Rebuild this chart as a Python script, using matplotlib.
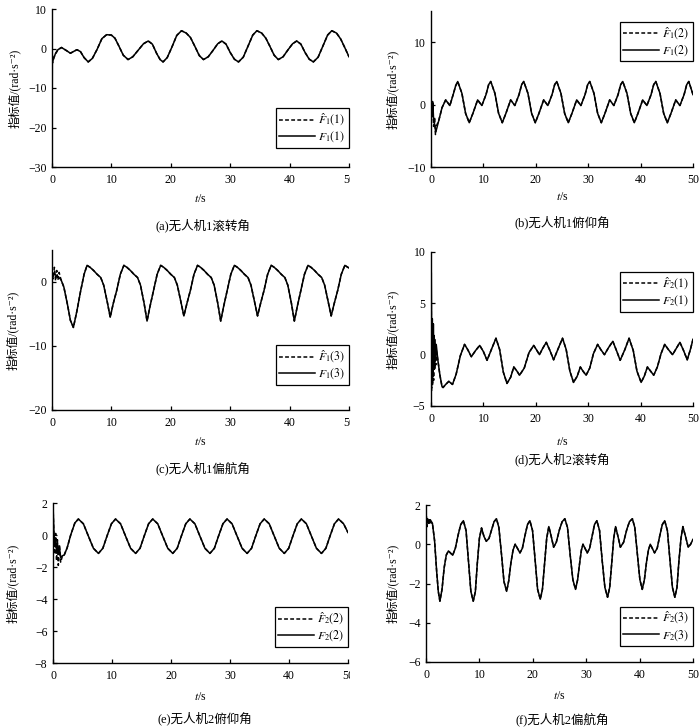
import matplotlib
matplotlib.use('Agg')
import matplotlib.pyplot as plt
from matplotlib.transforms import Bbox, TransformedBbox

plt.rcParams['font.family'] = ['Liberation Serif', 'Noto Sans CJK SC', 'DejaVu Serif']
plt.rcParams['mathtext.fontset'] = 'stix'
plt.rcParams['axes.unicode_minus'] = True

# ---------------- (a) UAV1 roll ----------------
ta_head = [0.0, 0.05, 0.1, 0.3, 0.6, 1.0]
Fa_head = [-29.0, -4.0, -3.3, -2.5, -1.2, -0.3]
ta_head_hat = [0.0, 0.1, 0.3, 0.6, 1.0]
Fa_head_hat = [-3.0, -3.6, -2.2, -1.4, -0.3]
ta = [1.6, 2.3, 3.1, 3.7, 4.2, 4.8, 5.4, 6.1,
      6.8, 7.6, 8.4, 9.2, 10.0, 10.6, 11.3, 12.0, 12.8,
      13.6, 14.5, 15.4, 16.2, 16.9, 17.6, 18.2, 18.7,
      19.4, 20.2, 21.0, 21.8, 22.6, 23.3, 24.0, 24.8, 25.5,
      26.3, 27.1, 27.9, 28.6, 29.3, 30.0, 30.7, 31.4,
      32.2, 33.0, 33.8, 34.5, 35.3, 36.0, 36.7, 37.4, 38.1,
      38.9, 39.7, 40.5, 41.2, 41.9, 42.6, 43.3, 44.0,
      44.8, 45.6, 46.4, 47.1, 47.9, 48.6, 49.3, 50.0]
Fa = [0.25, -0.4, -1.2, -0.7, -0.3, -0.8, -2.3, -3.4,
      -2.5, -0.2, 2.5, 3.5, 3.4, 2.6, 0.5, -1.7, -2.8,
      -2.1, -0.45, 1.2, 1.9, 1.1, -1.2, -2.8, -3.4,
      -2.3, 0.4, 3.3, 4.5, 3.9, 2.8, 0.7, -1.8, -2.8,
      -2.1, -0.5, 1.2, 1.9, 1.1, -1.0, -2.7, -3.4,
      -2.2, 0.6, 3.4, 4.5, 3.9, 2.6, 0.5, -1.7, -2.8,
      -2.1, -0.4, 1.2, 1.9, 1.1, -1.0, -2.7, -3.4,
      -2.2, 0.6, 3.4, 4.5, 3.9, 2.4, 0.2, -2.1]

# ---------------- (b) UAV1 pitch ----------------
tb_head = [0.0, 0.2, 0.35, 0.5, 0.7, 0.9, 1.1, 1.5, 2.1]
Fb_head = [0.4, -1.5, 0.3, -2.5, -3.2, -4.4, -3.8, -2.5, -0.5]
tb_head_hat = [0.0, 0.15, 0.3, 0.5, 0.7, 0.85, 1.0, 1.5, 2.1]
Fb_head_hat = [0.5, -2.0, 0.5, -3.5, -2.0, -4.8, -3.5, -2.5, -0.5]
tb = [2.8, 3.6, 4.3, 4.7,
      5.1, 5.9, 6.6, 7.3, 8.0, 8.9, 9.7, 10.5, 11.0,
      11.4, 12.2, 12.9, 13.6, 14.3, 15.2, 16.0, 16.8, 17.3,
      17.7, 18.5, 19.2, 19.9, 20.6, 21.5, 22.3, 23.1, 23.6,
      24.0, 24.8, 25.5, 26.2, 26.9, 27.8, 28.6, 29.4, 29.9,
      30.3, 31.1, 31.8, 32.5, 33.2, 34.1, 34.9, 35.7, 36.2,
      36.6, 37.4, 38.1, 38.8, 39.5, 40.4, 41.2, 42.0, 42.5,
      42.9, 43.7, 44.4, 45.1, 45.8, 46.7, 47.5, 48.3, 48.8,
      49.2, 50.0]
Fb = [0.75, -0.15, 1.8, 3.0,
      3.7, 1.8, -1.4, -2.9, -1.4, 0.75, -0.15, 1.6, 3.2,
      3.7, 1.8, -1.4, -2.9, -1.4, 0.75, -0.15, 1.6, 3.2,
      3.7, 1.8, -1.4, -2.9, -1.4, 0.75, -0.15, 1.6, 3.2,
      3.7, 1.8, -1.4, -2.9, -1.4, 0.75, -0.15, 1.6, 3.2,
      3.7, 1.8, -1.4, -2.9, -1.4, 0.75, -0.15, 1.6, 3.2,
      3.7, 1.8, -1.4, -2.9, -1.4, 0.75, -0.15, 1.6, 3.2,
      3.7, 1.8, -1.4, -2.9, -1.4, 0.75, -0.15, 1.6, 3.2,
      3.7, 1.6]

# ---------------- (c) UAV1 yaw ----------------
tc_head = [0.0, 0.5, 1.0, 1.5]
Fc_head = [1.0, 1.2, 0.8, 0.4]
tc_head_hat = [0.0, 0.2, 0.4, 0.6, 0.8, 1.0, 1.2, 1.5]
Fc_head_hat = [2.0, 0.5, 2.3, 0.2, 1.8, 0.3, 1.5, 0.4]
tc = [2.0, 2.6, 3.1, 3.6, 4.2, 4.8, 5.4,
      5.9, 6.4, 7.0, 7.6, 8.2, 8.7, 9.3, 9.8, 10.3, 10.9, 11.5,
      12.1, 12.6, 13.2, 13.8, 14.4, 14.9, 15.5, 16.0, 16.5, 17.1, 17.7,
      18.3, 18.8, 19.4, 20.0, 20.6, 21.1, 21.7, 22.2, 22.7, 23.3, 23.9,
      24.5, 25.0, 25.6, 26.2, 26.8, 27.3, 27.9, 28.4, 28.9, 29.5, 30.1,
      30.7, 31.2, 31.8, 32.4, 33.0, 33.5, 34.1, 34.6, 35.1, 35.7, 36.3,
      36.9, 37.4, 38.0, 38.6, 39.2, 39.7, 40.3, 40.8, 41.3, 41.9, 42.5,
      43.1, 43.6, 44.2, 44.8, 45.4, 45.9, 46.5, 47.0, 47.5, 48.1, 48.7,
      49.3, 49.8, 50.0]
Fc = [-0.8, -3.5, -6.0, -7.1, -4.5, -1.5, 1.2,
      2.6, 2.3, 1.8, 1.2, 0.7, -0.5, -3.1, -5.5, -3.4, -1.3, 1.2,
      2.6, 2.3, 1.8, 1.2, 0.7, -0.5, -3.3, -6.1, -3.8, -1.3, 1.2,
      2.6, 2.3, 1.8, 1.2, 0.7, -0.5, -3.1, -5.3, -3.4, -1.3, 1.2,
      2.6, 2.3, 1.8, 1.2, 0.7, -0.5, -3.3, -6.1, -3.8, -1.3, 1.2,
      2.6, 2.3, 1.8, 1.2, 0.7, -0.5, -3.1, -5.3, -3.4, -1.3, 1.2,
      2.6, 2.3, 1.8, 1.2, 0.7, -0.5, -3.3, -6.1, -3.8, -1.3, 1.2,
      2.6, 2.3, 1.8, 1.2, 0.7, -0.5, -3.1, -5.3, -3.4, -1.3, 1.2,
      2.6, 2.3, 2.2]

# ---------------- (d) UAV2 roll ----------------
td_head = [0.0, 0.05, 0.15, 0.25, 0.35, 0.45, 0.55, 0.7, 0.85, 1.0, 1.3]
Fd_head = [-2.5, 8.0, -1.0, 3.5, -2.0, 3.0, -1.0, 1.5, -0.5, 1.0, -0.5]
td_head_hat = [0.0, 0.05, 0.12, 0.2, 0.3, 0.4, 0.5, 0.6, 0.7, 0.8, 0.9, 1.0, 1.3]
Fd_head_hat = [0.0, 4.8, -3.5, 3.2, -3.0, 2.5, -2.5, 2.0, -1.5, 1.0, -1.0, 0.5, -0.5]
td = [1.7, 2.1, 2.3, 2.8, 3.4, 4.1, 4.8, 5.6, 6.4, 7.0,
      7.7, 8.5, 9.3, 10.0, 10.7, 11.6, 12.4, 13.1, 13.8, 14.5,
      15.2, 15.8, 16.4, 16.9, 17.8, 18.7, 19.6, 20.1, 20.7, 21.3,
      22.0, 22.7, 23.4, 24.2, 25.1, 25.8, 26.5, 27.2, 27.9, 28.5,
      29.0, 29.6, 30.3, 31.0, 31.8, 32.4, 33.1, 33.9, 34.7, 35.4,
      36.1, 37.0, 37.8, 38.6, 39.3, 40.1, 40.7, 41.3, 41.9, 42.5,
      43.2, 43.9, 44.6, 45.3, 46.1, 46.8, 47.5, 48.2, 48.9, 49.5,
      50.0]
Fd = [-2.0, -3.1, -3.2, -2.9, -2.6, -2.9, -1.9, -0.1, 1.0, 0.5,
      -0.2, 0.4, 0.9, 0.3, -0.55, 0.6, 1.6, 0.5, -1.7, -2.8,
      -2.2, -1.2, -1.6, -2.0, -1.3, 0.2, 0.9, 0.5, 0.0, 0.6,
      1.2, 0.4, -0.5, 0.5, 1.6, 0.5, -1.6, -2.7, -2.1, -1.2,
      -1.6, -2.0, -1.3, 0.1, 1.0, 0.5, 0.0, 0.7, 1.3, 0.4,
      -0.55, 0.5, 1.6, 0.4, -1.6, -2.7, -2.1, -1.2, -1.6, -2.0,
      -1.2, 0.1, 1.0, 0.5, 0.0, 0.6, 1.2, 0.4, -0.5, 0.5,
      1.5]

# ---------------- (e) UAV2 pitch ----------------
te_head = [0.0, 0.02, 0.15, 0.3, 0.45, 0.6, 0.75, 0.9, 1.1, 1.3, 1.6]
Fe_head = [-6.5, 1.7, 0.2, -0.6, -0.2, -1.0, -0.5, -1.2, -0.8, -1.4, -1.3]
te_head_hat = [0.0, 0.15, 0.3, 0.45, 0.6, 0.75, 0.9, 1.1, 1.3, 1.6]
Fe_head_hat = [1.8, 0.0, -1.2, 0.1, -1.6, -0.3, -1.9, -0.6, -1.7, -1.3]
te = [1.9, 2.4, 3.0, 3.7,
      4.3, 5.15, 6.0, 6.85, 7.7, 8.45, 9.15, 9.9,
      10.6, 11.45, 12.3, 13.15, 14.0, 14.75, 15.45, 16.2,
      16.9, 17.75, 18.6, 19.45, 20.3, 21.05, 21.75, 22.5,
      23.2, 24.05, 24.9, 25.75, 26.6, 27.35, 28.05, 28.8,
      29.5, 30.35, 31.2, 32.05, 32.9, 33.65, 34.35, 35.1,
      35.8, 36.65, 37.5, 38.35, 39.2, 39.95, 40.65, 41.4,
      42.1, 42.95, 43.8, 44.65, 45.5, 46.25, 46.95, 47.7,
      48.4, 49.25, 50.0]
Fe = [-1.25, -0.8, 0.0, 0.75,
      1.0, 0.7, -0.07, -0.83, -1.15, -0.83, -0.07, 0.7,
      1.0, 0.7, -0.07, -0.83, -1.15, -0.83, -0.07, 0.7,
      1.0, 0.7, -0.07, -0.83, -1.15, -0.83, -0.07, 0.7,
      1.0, 0.7, -0.07, -0.83, -1.15, -0.83, -0.07, 0.7,
      1.0, 0.7, -0.07, -0.83, -1.15, -0.83, -0.07, 0.7,
      1.0, 0.7, -0.07, -0.83, -1.15, -0.83, -0.07, 0.7,
      1.0, 0.7, -0.07, -0.83, -1.15, -0.83, -0.07, 0.7,
      1.0, 0.7, 0.15]

# ---------------- (f) UAV2 yaw ----------------
tf_head = [0.0, 0.2, 0.5, 0.8]
Ff_head = [0.7, 1.2, 1.1, 1.25]
tf_head_hat = [0.0, 0.1, 0.2, 0.3, 0.4, 0.5, 0.6, 0.7, 0.85]
Ff_head_hat = [0.9, 1.4, 0.9, 1.35, 1.0, 1.3, 1.0, 1.3, 1.1]
tf = [1.2, 1.6, 2.0, 2.3, 2.6, 3.0, 3.4, 3.8, 4.2, 4.6, 5.0, 5.5, 6.0, 6.5,
      7.0, 7.5, 7.95, 8.4, 8.85, 9.25, 9.6, 10.0, 10.4, 10.85, 11.3, 11.8,
      12.3, 12.75, 13.2, 13.65, 14.15, 14.6, 15.1, 15.5, 15.9, 16.3, 16.7,
      17.15, 17.6, 18.05, 18.5, 19.0,
      19.45, 19.95, 20.45, 20.9, 21.4, 21.8, 22.2, 22.6, 23.0, 23.45, 23.9,
      24.4, 25.0, 25.5, 26.0, 26.5, 27.0, 27.5, 28.0, 28.4, 28.8, 29.1,
      29.4, 29.8, 30.2, 30.65, 31.1, 31.55,
      32.0, 32.5, 33.0, 33.5, 34.0, 34.4, 34.8, 35.15, 35.5, 35.95, 36.4,
      37.0, 37.6, 38.1, 38.65, 39.1, 39.6, 40.05, 40.5, 40.9, 41.3, 41.65,
      42.0, 42.4, 42.8, 43.3, 43.75, 44.25,
      44.7, 45.2, 45.7, 46.15, 46.6, 47.0, 47.35, 47.75, 48.1, 48.6, 49.1,
      49.55, 50.0]
Ff = [1.07, 0.2, -1.4, -2.4, -2.9, -2.3, -1.2, -0.55, -0.34, -0.45, -0.56, -0.2, 0.45, 1.0,
      1.2, 0.7, -0.85, -2.4, -2.9, -2.4, -1.0, 0.3, 0.83, 0.4, 0.15, 0.3,
      0.75, 1.15, 1.3, 0.85, -0.55, -1.9, -2.4, -1.85, -0.95, -0.3, 0.0,
      -0.22, -0.44, -0.2, 0.4, 1.0,
      1.2, 0.7, -0.85, -2.3, -2.8, -2.3, -1.0, 0.3, 0.9, 0.4, -0.15,
      0.1, 0.75, 1.15, 1.3, 0.85, -0.55, -1.8, -2.3, -1.8, -0.9, -0.3,
      0.0, -0.22, -0.44, -0.2, 0.4, 1.0,
      1.2, 0.7, -0.85, -2.2, -2.7, -2.2, -0.9, 0.3, 0.9, 0.4, -0.15,
      0.1, 0.75, 1.15, 1.3, 0.85, -0.55, -1.8, -2.3, -1.8, -0.9, -0.3,
      0.0, -0.22, -0.44, -0.2, 0.4, 1.0,
      1.2, 0.7, -0.85, -2.2, -2.7, -2.2, -0.9, 0.3, 0.9, 0.4, -0.15,
      0.0, 0.25]

xticks = [0, 10, 20, 30, 40, 50]
ylabel_text = '指标值/(rad·s⁻²)'
xlabel_text = '$t$/s'

W, H = 700, 728
fig = plt.figure(figsize=(W / 100, H / 100), dpi=100)

# layout in pixels: left, right, top, bottom
panels = [
    dict(box=(52, 349, 9, 167), t=(ta_head, ta, ta_head_hat), y=(Fa_head, Fa, Fa_head_hat),
         ylim=(-30, 10), yticks=[-30, -20, -10, 0, 10], lab=('1', '1'),
         leg=('lower right', (1.0, 0.12)), cap='(a)无人机1滚转角', capxy=(203, 225),
         ylx=21, xly=26, clip=True),
    dict(box=(431, 693, 11, 167), t=(tb_head, tb, tb_head_hat), y=(Fb_head, Fb, Fb_head_hat),
         ylim=(-10, 15), yticks=[-10, 0, 10], lab=('1', '2'),
         leg=('upper right', (1.0, 0.93)), cap='(b)无人机1俯仰角', capxy=(562, 222),
         ylx=399, xly=24, clip=False),
    dict(box=(52, 349, 250, 410), t=(tc_head, tc, tc_head_hat), y=(Fc_head, Fc, Fc_head_hat),
         ylim=(-20, 5), yticks=[-20, -10, 0], lab=('1', '3'),
         leg=('lower right', (1.0, 0.156)), cap='(c)无人机1偏航角', capxy=(203, 468),
         ylx=19, xly=26, clip=True),
    dict(box=(431, 693, 252, 406), t=(td_head, td, td_head_hat), y=(Fd_head, Fd, Fd_head_hat),
         ylim=(-5, 10), yticks=[-5, 0, 5, 10], lab=('2', '1'),
         leg=('upper right', (1.0, 0.87)), cap='(d)无人机2滚转角', capxy=(562, 459),
         ylx=399, xly=30, clip=False),
    dict(box=(53, 348, 503, 663), t=(te_head, te, te_head_hat), y=(Fe_head, Fe, Fe_head_hat),
         ylim=(-8, 2), yticks=[-8, -6, -4, -2, 0, 2], lab=('2', '2'),
         leg=('lower right', (1.0, 0.10)), cap='(e)无人机2俯仰角', capxy=(205, 718),
         ylx=19, xly=28, clip=True),
    dict(box=(426, 693, 505, 662), t=(tf_head, tf, tf_head_hat), y=(Ff_head, Ff, Ff_head_hat),
         ylim=(-6, 2), yticks=[-6, -4, -2, 0, 2], lab=('2', '3'),
         leg=('lower right', (1.0, 0.10)), cap='(f)无人机2偏航角', capxy=(562, 719),
         ylx=399, xly=28, clip=False),
]

clip_left = TransformedBbox(Bbox([[0, 0], [0.5, 1]]), fig.transFigure)

for p in panels:
    l, r, tp, bt = p['box']
    ax = fig.add_axes([l / W, 1 - bt / H, (r - l) / W, (bt - tp) / H])
    th, tt, thh = p['t']
    yh, yt, yhh = p['y']
    i, j = p['lab']
    ax.plot(thh + tt, yhh + yt, color='black', lw=1.1, dashes=(2.5, 1.5),
            label=r'$\hat{F}_{%s}(%s)$' % (i, j))
    ax.plot(th + tt, yh + yt, color='black', lw=1.1, label=r'$F_{%s}(%s)$' % (i, j))
    ax.set_xlim(0, 50)
    ax.set_ylim(*p['ylim'])
    ax.set_xticks(xticks)
    ax.set_yticks(p['yticks'])
    for s in ('top', 'right'):
        ax.spines[s].set_visible(False)
    for s in ('left', 'bottom'):
        ax.spines[s].set_linewidth(1.0)
    ax.tick_params(direction='in', length=3, width=0.9, labelsize=8.5)
    ax.tick_params(axis='x', pad=5)
    ax.tick_params(axis='y', pad=4)
    wpx, hpx = r - l, bt - tp
    ax.set_ylabel(ylabel_text, fontsize=8.5)
    ax.yaxis.set_label_coords((p['ylx'] - l) / wpx, 0.5)
    ax.set_xlabel(xlabel_text, fontsize=8.5)
    ax.xaxis.set_label_coords(0.5, -p['xly'] / hpx)
    leg = ax.legend(loc=p['leg'][0], bbox_to_anchor=p['leg'][1], borderaxespad=0,
                    fontsize=8.5, handlelength=3.0, handletextpad=0.3,
                    borderpad=0.3, labelspacing=0.15, fancybox=False,
                    framealpha=1, edgecolor='black')
    leg.get_frame().set_linewidth(0.9)
    if p['clip']:
        for lbl in ax.get_xticklabels():
            lbl.set_clip_box(clip_left)
            lbl.set_clip_on(True)
    fig.text(p['capxy'][0] / W, 1 - p['capxy'][1] / H, p['cap'], ha='center',
             va='center', fontsize=9)

fig.savefig('out.png', dpi=100, facecolor='white')
